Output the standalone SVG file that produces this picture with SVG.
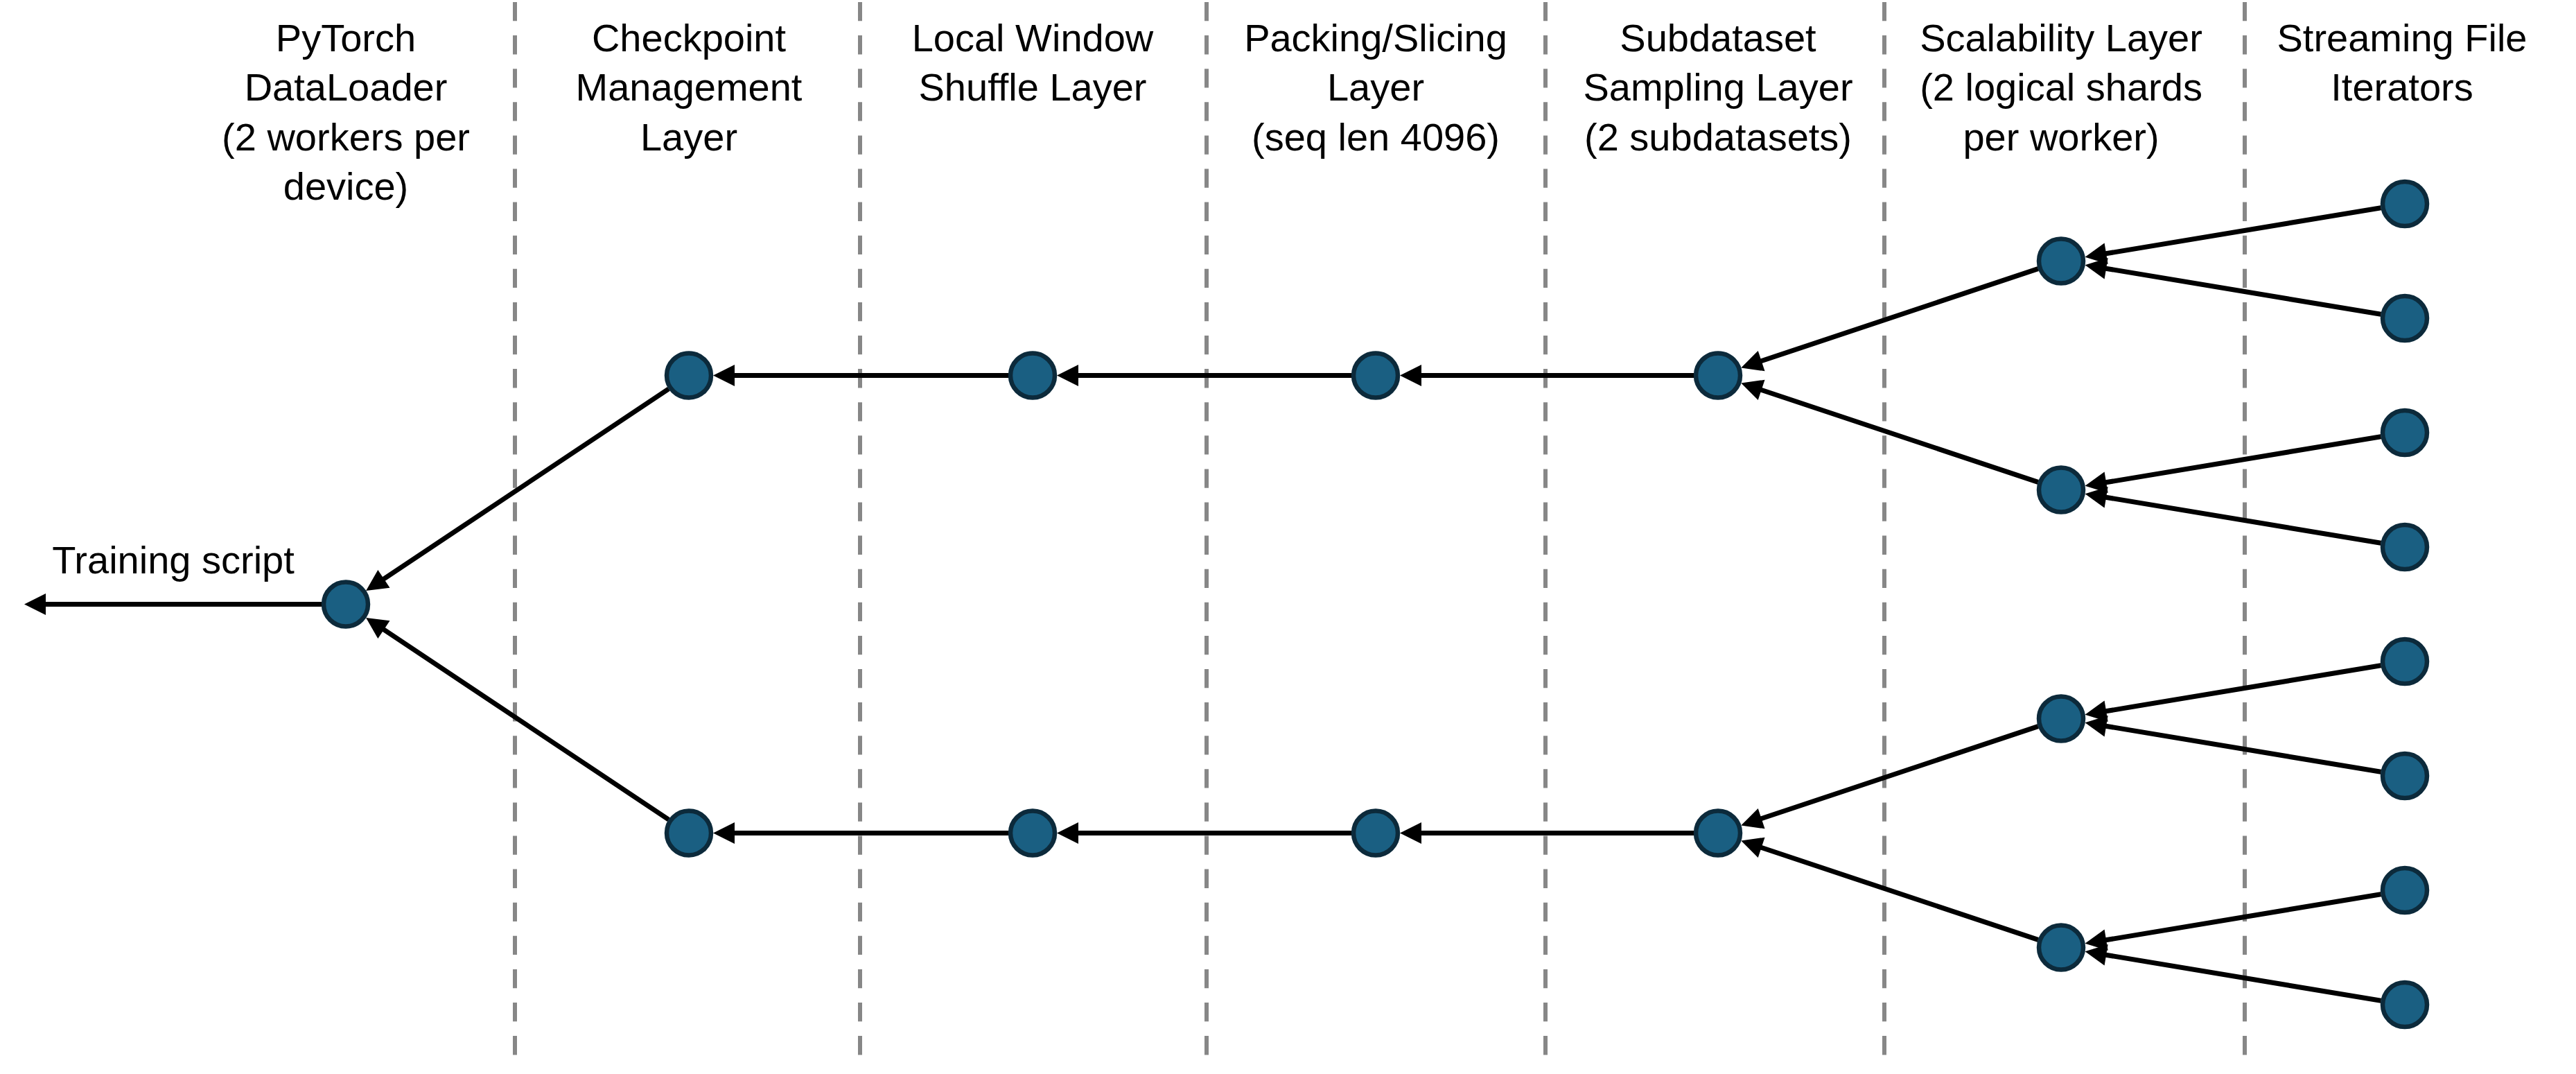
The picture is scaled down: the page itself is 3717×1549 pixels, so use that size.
<svg xmlns="http://www.w3.org/2000/svg" width="3717" height="1549" viewBox="0 0 3717 1549">
  <style>
    .bg { fill: #ffffff; }
    .divider { stroke: #878787; stroke-width: 6; stroke-dasharray: 27.3 20.8; fill: none; }
    .node { fill: #1a5f82; stroke: #0c2a3b; stroke-width: 6.5; }
    .edge { stroke: #000000; stroke-width: 7; fill: none; marker-end: url(#arrow); }
    .label { font-family: "Liberation Sans", Arial, sans-serif; font-size: 56px; fill: #000000; text-anchor: middle; }
  </style>
  <defs>
    <marker id="arrow" markerUnits="userSpaceOnUse" markerWidth="31" markerHeight="31" refX="13" refY="15.5" orient="auto" overflow="visible">
      <path d="M0,0 L31,15.5 L0,31 Z" fill="#000000"/>
    </marker>
  </defs>

  <rect class="bg" x="0" y="0" width="3717" height="1549"/>

  <!-- column dividers -->
  <g id="dividers">
    <line class="divider" x1="743" y1="3" x2="743" y2="1522"/>
    <line class="divider" x1="1241" y1="3" x2="1241" y2="1522"/>
    <line class="divider" x1="1741" y1="3" x2="1741" y2="1522"/>
    <line class="divider" x1="2230" y1="3" x2="2230" y2="1522"/>
    <line class="divider" x1="2719" y1="3" x2="2719" y2="1522"/>
    <line class="divider" x1="3239" y1="3" x2="3239" y2="1522"/>
  </g>

  <!-- column headings -->
  <g id="headings">
    <text class="label" x="499" y="74">PyTorch</text>
    <text class="label" x="499" y="145">DataLoader</text>
    <text class="label" x="499" y="217">(2 workers per</text>
    <text class="label" x="499" y="288">device)</text>

    <text class="label" x="994" y="74">Checkpoint</text>
    <text class="label" x="994" y="145">Management</text>
    <text class="label" x="994" y="217">Layer</text>

    <text class="label" x="1490" y="74">Local Window</text>
    <text class="label" x="1490" y="145">Shuffle Layer</text>

    <text class="label" x="1985" y="74">Packing/Slicing</text>
    <text class="label" x="1985" y="145">Layer</text>
    <text class="label" x="1985" y="217">(seq len 4096)</text>

    <text class="label" x="2479" y="74">Subdataset</text>
    <text class="label" x="2479" y="145">Sampling Layer</text>
    <text class="label" x="2479" y="217">(2 subdatasets)</text>

    <text class="label" x="2974" y="74">Scalability Layer</text>
    <text class="label" x="2974" y="145">(2 logical shards</text>
    <text class="label" x="2974" y="217">per worker)</text>

    <text class="label" x="3466" y="74">Streaming File</text>
    <text class="label" x="3466" y="145">Iterators</text>

    <text class="label" x="250" y="827">Training script</text>
  </g>

  <!-- connectors -->
  <g id="connectors">
    <!-- streaming iterators to scalability shards -->
    <line class="edge" x1="3435.5" y1="299.7" x2="3026.3" y2="367.8"/>
    <line class="edge" x1="3435.5" y1="453.3" x2="3026.3" y2="385.2"/>
    <line class="edge" x1="3435.5" y1="629.7" x2="3026.3" y2="697.8"/>
    <line class="edge" x1="3435.5" y1="783.3" x2="3026.3" y2="715.2"/>
    <line class="edge" x1="3435.5" y1="959.7" x2="3026.3" y2="1027.8"/>
    <line class="edge" x1="3435.5" y1="1113.3" x2="3026.3" y2="1045.2"/>
    <line class="edge" x1="3435.5" y1="1289.7" x2="3026.3" y2="1357.8"/>
    <line class="edge" x1="3435.5" y1="1443.3" x2="3026.3" y2="1375.2"/>

    <!-- scalability shards to subdataset sampling -->
    <line class="edge" x1="2940.8" y1="387.6" x2="2529.3" y2="524.7"/>
    <line class="edge" x1="2940.8" y1="695.4" x2="2529.3" y2="558.3"/>
    <line class="edge" x1="2940.8" y1="1047.6" x2="2529.3" y2="1184.7"/>
    <line class="edge" x1="2940.8" y1="1355.4" x2="2529.3" y2="1218.3"/>

    <!-- upper worker pipeline -->
    <line class="edge" x1="2444" y1="541.5" x2="2038" y2="541.5"/>
    <line class="edge" x1="1950" y1="541.5" x2="1543" y2="541.5"/>
    <line class="edge" x1="1455" y1="541.5" x2="1047" y2="541.5"/>

    <!-- lower worker pipeline -->
    <line class="edge" x1="2444" y1="1201.5" x2="2038" y2="1201.5"/>
    <line class="edge" x1="1950" y1="1201.5" x2="1543" y2="1201.5"/>
    <line class="edge" x1="1455" y1="1201.5" x2="1047" y2="1201.5"/>

    <!-- checkpoint layers to the DataLoader -->
    <line class="edge" x1="964.9" y1="560.9" x2="543.1" y2="842.1"/>
    <line class="edge" x1="964.9" y1="1182.1" x2="543.1" y2="900.9"/>

    <!-- DataLoader output to the training script -->
    <line class="edge" x1="464" y1="871.5" x2="53" y2="871.5"/>
  </g>

  <!-- nodes -->
  <g id="node-dataloader"><circle class="node" cx="499" cy="871.5" r="32"/></g>

  <g id="node-checkpoint-1"><circle class="node" cx="994" cy="541.5" r="32"/></g>
  <g id="node-checkpoint-2"><circle class="node" cx="994" cy="1201.5" r="32"/></g>

  <g id="node-shuffle-1"><circle class="node" cx="1490" cy="541.5" r="32"/></g>
  <g id="node-shuffle-2"><circle class="node" cx="1490" cy="1201.5" r="32"/></g>

  <g id="node-packing-1"><circle class="node" cx="1985" cy="541.5" r="32"/></g>
  <g id="node-packing-2"><circle class="node" cx="1985" cy="1201.5" r="32"/></g>

  <g id="node-subdataset-1"><circle class="node" cx="2479" cy="541.5" r="32"/></g>
  <g id="node-subdataset-2"><circle class="node" cx="2479" cy="1201.5" r="32"/></g>

  <g id="node-shard-1"><circle class="node" cx="2974" cy="376.5" r="32"/></g>
  <g id="node-shard-2"><circle class="node" cx="2974" cy="706.5" r="32"/></g>
  <g id="node-shard-3"><circle class="node" cx="2974" cy="1036.5" r="32"/></g>
  <g id="node-shard-4"><circle class="node" cx="2974" cy="1366.5" r="32"/></g>

  <g id="node-file-1"><circle class="node" cx="3470" cy="294" r="32"/></g>
  <g id="node-file-2"><circle class="node" cx="3470" cy="459" r="32"/></g>
  <g id="node-file-3"><circle class="node" cx="3470" cy="624" r="32"/></g>
  <g id="node-file-4"><circle class="node" cx="3470" cy="789" r="32"/></g>
  <g id="node-file-5"><circle class="node" cx="3470" cy="954" r="32"/></g>
  <g id="node-file-6"><circle class="node" cx="3470" cy="1119" r="32"/></g>
  <g id="node-file-7"><circle class="node" cx="3470" cy="1284" r="32"/></g>
  <g id="node-file-8"><circle class="node" cx="3470" cy="1449" r="32"/></g>
</svg>
